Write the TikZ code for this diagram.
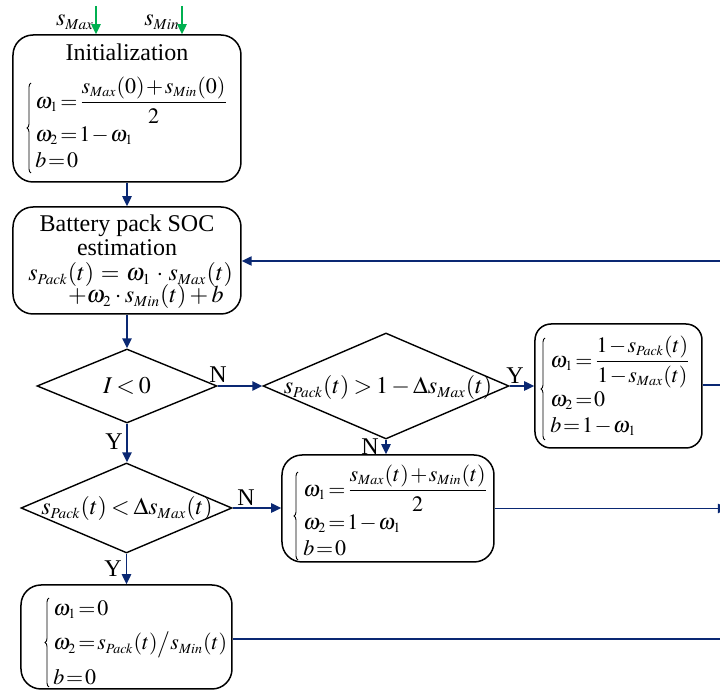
\documentclass[tikz,border=0pt]{standalone}
\usepackage{amsmath}
\usepackage{mathptmx}
\usepackage[no-math]{fontspec}
\setmainfont{Liberation Serif}
\usetikzlibrary{shapes.geometric,arrows.meta,decorations.pathreplacing}
\DeclareMathSizes{12}{12}{7.6}{5.5}
\DeclareMathSizes{11}{11}{7}{5}
\definecolor{navy}{RGB}{10,40,115}
\definecolor{feedgreen}{RGB}{0,176,80}
\newcommand{\widemath}{\thickmuskip=5mu plus 2mu\medmuskip=4mu plus 2mu\thinmuskip=3mu}
\newcommand{\midmath}{\thickmuskip=3mu plus 1mu\medmuskip=2.4mu plus 1mu\thinmuskip=2mu}
\newcommand{\tightmath}{\thickmuskip=1.5mu\medmuskip=1.2mu\thinmuskip=1mu}
\tikzset{
  box/.style={draw, line width=0.75pt, rounded corners=10pt, inner sep=0pt},
  dia/.style={draw, diamond, line width=0.7pt, inner sep=0pt},
  txt/.style={inner sep=0pt, font=\fontsize{12}{14}\selectfont\midmath},
  eqn/.style={inner sep=0pt, anchor=west, font=\fontsize{11}{13}\selectfont\tightmath},
  brc/.style={draw, line width=0.45pt, decorate, decoration={brace, amplitude=2pt}},
  flow/.style={draw=navy, line width=0.9pt, -{Triangle[length=5pt,width=4.6pt]}},
  inflow/.style={draw=feedgreen, line width=0.9pt, -{Triangle[length=5pt,width=4.6pt]}},
}
\begin{document}
\begin{tikzpicture}[x=0.5pt,y=-0.5pt]
\useasboundingbox (0,0) rectangle (720,690);
\clip (0,0) rectangle (720,690);

% ---- boxes and decisions ----
\node[box, minimum width=114pt, minimum height=73.5pt] (init) at (127,108.5) {};
\node[box, minimum width=114pt, minimum height=53.5pt] (bat) at (127,260.5) {};
\node[dia, minimum width=90pt, minimum height=37pt] (d1) at (127,386) {};
\node[dia, minimum width=123pt, minimum height=53pt] (d2) at (386,386) {};
\node[box, rounded corners=8pt, minimum width=83.5pt, minimum height=62pt] (upd1) at (618.5,386) {};
\node[dia, minimum width=105.5pt, minimum height=45pt] (d3) at (126.5,508) {};
\node[box, minimum width=106pt, minimum height=53.5pt] (upd2) at (388,508.5) {};
\node[box, minimum width=105.5pt, minimum height=52pt] (upd3) at (126.5,637) {};

% ---- texts ----
\node[txt] (initt) at (127,52) {Initialization};
\node[eqn] (inite) at (35,126)
  {$\begin{array}{@{}l@{}}\omega_1=\dfrac{s_{Max}(0)+s_{Min}(0)}{2}\\[2pt]
   \omega_2=1-\omega_1\\ b=0\end{array}$};
\draw[brc] (31,173) -- (31,83);

\node[txt, align=center] (batt) at (127,235) {Battery pack SOC\\[-2pt]estimation};
\node[txt, anchor=west, font=\fontsize{12}{14}\selectfont\widemath] (bate1) at (28,275)
  {$s_{Pack}(t)=\omega_1\cdot s_{Max}(t)$};
\node[txt, anchor=east] (bate2) at (224,297) {$+\omega_2\cdot s_{Min}(t)+b$};

\node[txt] (d1t) at (127,386) {$I<0$};
\node[txt] (d2t) at (388,388) {$s_{Pack}(t)>1-\Delta s_{Max}(t)$};
\node[txt] (d3t) at (127,509) {$s_{Pack}(t)<\Delta s_{Max}(t)$};

\node[eqn] (upd1e) at (550,388)
  {$\begin{array}{@{}l@{}}\omega_1=\dfrac{1-s_{Pack}(t)}{1-s_{Max}(t)}\\[2pt]
   \omega_2=0\\ b=1-\omega_1\end{array}$};
\draw[brc] (545,440) -- (545,338);

\node[eqn] (upd2e) at (303,514)
  {$\begin{array}{@{}l@{}}\omega_1=\dfrac{s_{Max}(t)+s_{Min}(t)}{2}\\[2pt]
   \omega_2=1-\omega_1\\ b=0\end{array}$};
\draw[brc] (298,560) -- (298,472);

\node[eqn] (upd3e) at (53,643)
  {$\renewcommand{\arraystretch}{1.32}\begin{array}{@{}l@{}}\omega_1=0\\
   \omega_2=s_{Pack}(t)\big/s_{Min}(t)\\ b=0\end{array}$};
\draw[brc] (49,687) -- (49,598);

% ---- inputs ----
\node[txt] (smax) at (75,22) {$s_{Max}$};
\node[txt] (smin) at (162,22) {$s_{Min}$};
\coordinate (inmax) at (96,6);
\coordinate (inmin) at (182,6);
\draw[inflow] (inmax) -- (inmax |- init.north);
\draw[inflow] (inmin) -- (inmin |- init.north);

% ---- branch labels ----
\node[txt] (n1) at (218,375) {N};
\node[txt] (y1) at (515,376) {Y};
\node[txt] (n2) at (370,447) {N};
\node[txt] (y2) at (114,442) {Y};
\node[txt] (n3) at (246,498) {N};
\node[txt] (y3) at (113,569) {Y};

% ---- open ends at the right ----
\coordinate (fb) at (735,261);
\coordinate (r1) at (735,385);
\coordinate (r2) at (728,508.5);
\coordinate (r3) at (735,639);

% ---- connectors ----
\draw[flow] (init.south) -- (bat.north);
\draw[flow] (fb) -- (fb -| bat.east);
\draw[flow] (bat.south) -- (d1.north);
\draw[flow] (d1.east) -- (d2.west);
\draw[flow] (d2.east) -- (upd1.west);
\draw[flow] (upd1.east |- r1) -- (r1);
\draw[flow] (d2.south) -- (d2.south |- upd2.north);
\draw[flow] (d1.south) -- (d1.south |- d3.north);
\draw[flow] (d3.east) -- (d3.east -| upd2.west);
\draw[flow] (upd2.east) -- (r2);
\draw[flow] (d3.south) -- (d3.south |- upd3.north);
\draw[flow] (upd3.east |- r3) -- (r3);
\end{tikzpicture}
\end{document}
